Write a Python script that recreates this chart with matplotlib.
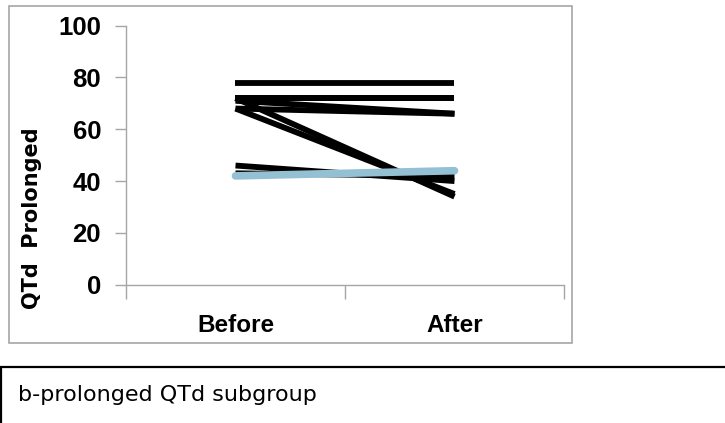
import matplotlib.pyplot as plt
from matplotlib.patches import Rectangle

# QTd (prolonged subgroup), one line per patient
labels = ['Before', 'After']
before = [78, 72, 72, 71, 68, 72, 68, 46, 43]
after = [78, 72, 72, 66, 66, 34, 35, 40, 42]
mean_line = [42, 44]

yticks = [0, 20, 40, 60, 80, 100]
cap = 'b-prolonged QTd subgroup'

sans = ['Liberation Sans', 'DejaVu Sans']

fig = plt.figure(figsize=(7.25, 4.23), dpi=100)
ax = fig.add_axes([0.1738, 0.327, 0.6041, 0.6123])

x = [1, 2]
for b, a in zip(before, after):
    ax.plot(x, [b, a], color='black', linewidth=4.2, solid_capstyle='butt')
ax.plot(x, mean_line, color='#93C0D3', linewidth=5.5, solid_capstyle='round')

ax.set_xlim(0.5, 2.5)
ax.set_ylim(0, 100)
ax.set_yticks(yticks)
ax.set_yticklabels([str(v) for v in yticks], fontsize=18.5, fontweight='bold', family=sans)
ax.set_xticks([0.5, 1.5, 2.5])
ax.set_xticklabels([])
ax.set_xticks(x, minor=True)
ax.set_xticklabels(labels, minor=True, fontsize=17.5, fontweight='bold', family=sans)
ax.tick_params(axis='x', which='major', length=10, width=1, color='#A6A6A6')
ax.tick_params(axis='x', which='minor', length=0, pad=21)
ax.tick_params(axis='y', length=8, width=1, color='#A6A6A6', pad=10)

for s in ['top', 'right']:
    ax.spines[s].set_visible(False)
for s in ['left', 'bottom']:
    ax.spines[s].set_color('#A6A6A6')
    ax.spines[s].set_linewidth(1)

fig.text(32 / 725, 1 - 218 / 423, 'QTd  Prolonged', rotation=90, ha='center',
         va='center', fontsize=15, fontweight='bold')

# frame around the chart and the caption box below it
fig.patches.append(Rectangle((9 / 725, 1 - 343 / 423), 563 / 725, 337 / 423,
                             transform=fig.transFigure, fill=False,
                             edgecolor='#A6A6A6', linewidth=1.2))
fig.patches.append(Rectangle((1 / 725, -0.05), 1.1, 1 - 367 / 423 + 0.05,
                             transform=fig.transFigure, fill=False,
                             edgecolor='black', linewidth=1.6))
fig.text(18 / 725, 1 - 395 / 423, cap, fontsize=16, va='center')

fig.savefig('out.png', dpi=100)
